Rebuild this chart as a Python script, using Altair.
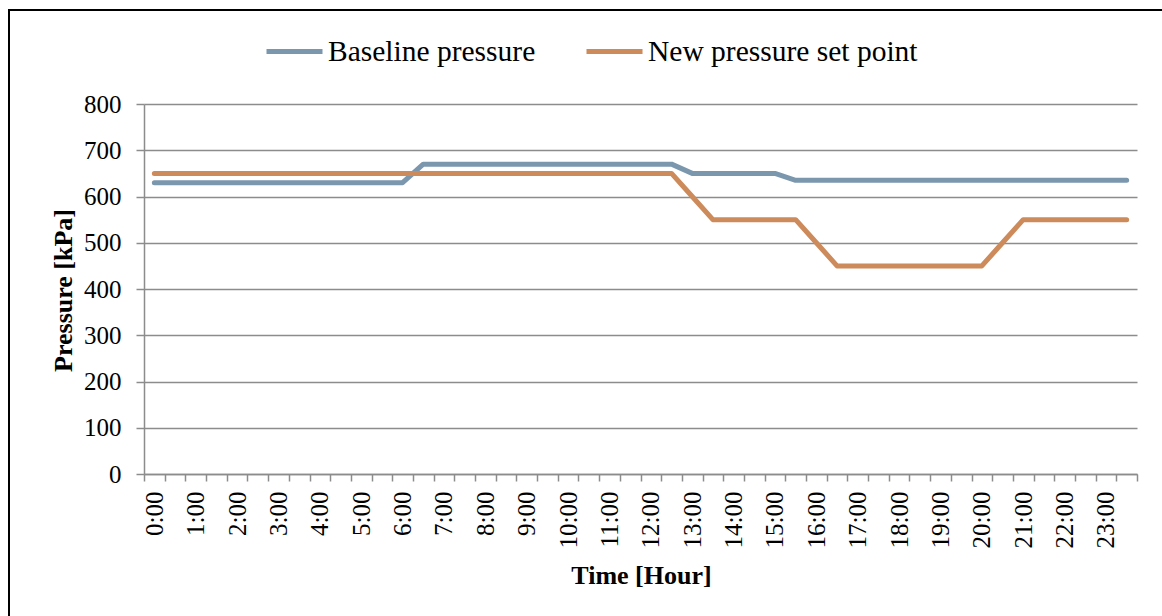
import altair as alt
import pandas as pd

# Half-hour time slots across the day
times = [
    "0:00", "0:30", "1:00", "1:30", "2:00", "2:30", "3:00", "3:30",
    "4:00", "4:30", "5:00", "5:30", "6:00", "6:30", "7:00", "7:30",
    "8:00", "8:30", "9:00", "9:30", "10:00", "10:30", "11:00", "11:30",
    "12:00", "12:30", "13:00", "13:30", "14:00", "14:30", "15:00", "15:30",
    "16:00", "16:30", "17:00", "17:30", "18:00", "18:30", "19:00", "19:30",
    "20:00", "20:30", "21:00", "21:30", "22:00", "22:30", "23:00", "23:30",
]

# Pressure in kPa
baseline_pressure = [
    630, 630, 630, 630, 630, 630, 630, 630, 630, 630, 630, 630, 630,
    670, 670, 670, 670, 670, 670, 670, 670, 670, 670, 670, 670, 670,
    650, 650, 650, 650, 650,
    635, 635, 635, 635, 635, 635, 635, 635, 635, 635, 635, 635, 635, 635, 635, 635, 635,
]
new_set_point = [
    650, 650, 650, 650, 650, 650, 650, 650, 650, 650, 650, 650, 650,
    650, 650, 650, 650, 650, 650, 650, 650, 650, 650, 650, 650, 650,
    600,
    550, 550, 550, 550, 550,
    500,
    450, 450, 450, 450, 450, 450, 450, 450,
    500,
    550, 550, 550, 550, 550, 550,
]

series_names = ["Baseline pressure", "New pressure set point"]
series_colors = ["#7b97ae", "#cd8a5a"]

rows = []
for name, values in zip(series_names, [baseline_pressure, new_set_point]):
    for t, v in zip(times, values):
        rows.append({"time": t, "pressure": v, "series": name})
df = pd.DataFrame(rows)

FONT = "Liberation Serif"
GRID = "#8c8c8c"

lines = alt.Chart(df).mark_line(strokeWidth=5, strokeCap="round", strokeJoin="round").encode(
    x=alt.X(
        "time:N",
        sort=times,
        scale=alt.Scale(paddingInner=0, paddingOuter=0),
        axis=alt.Axis(
            title="Time [Hour]",
            titleFont=FONT, titleFontSize=26, titleFontWeight="bold", titleColor="black",
            titleX=497, titleY=88, titleAlign="center", titleBaseline="top",
            labelFont=FONT, labelFontSize=25, labelColor="black",
            labelAngle=270, labelPadding=10, labelOverlap=False,
            labelExpr="indexof(datum.label, ':30') >= 0 ? '' : datum.label",
            tickBand="extent", tickSize=7, tickColor=GRID, tickWidth=1.5,
            domainColor=GRID, domainWidth=1.5, grid=False,
        ),
    ),
    y=alt.Y(
        "pressure:Q",
        scale=alt.Scale(domain=[0, 800], nice=False),
        axis=alt.Axis(
            title="Pressure [kPa]",
            titleFont=FONT, titleFontSize=26, titleFontWeight="bold", titleColor="black",
            titleAngle=270, titleX=-73, titleY=186, titleAlign="center", titleBaseline="alphabetic",
            values=[0, 100, 200, 300, 400, 500, 600, 700, 800],
            labelFont=FONT, labelFontSize=25, labelColor="black", labelPadding=15,
            tickSize=8, tickColor=GRID, tickWidth=1.5,
            domainColor=GRID, domainWidth=1.5,
            grid=True, gridColor=GRID, gridWidth=1.5,
        ),
    ),
    color=alt.Color(
        "series:N",
        scale=alt.Scale(domain=series_names, range=series_colors),
        legend=alt.Legend(
            title=None, orient="none", direction="horizontal",
            legendX=120, legendY=-83,
            symbolType="stroke", symbolSize=3136, symbolStrokeWidth=5,
            labelFont=FONT, labelFontSize=29.5, labelColor="black", labelLimit=0,
            labelOffset=3, columnPadding=40, padding=0,
        ),
    ),
)

# Outer frame of the figure
frame = alt.Chart(pd.DataFrame({"f": [0]})).mark_rect(
    fill="transparent", stroke="black", strokeWidth=2
).encode(
    x=alt.value(-135), x2=alt.value(1040),
    y=alt.value(-94), y2=alt.value(540),
)

chart = alt.layer(frame, lines).properties(
    width=993,
    height=370,
    autosize=alt.AutoSizeParams(type="none"),
    padding={"left": 144, "top": 104, "right": 25, "bottom": 142},
    background="white",
).configure_view(stroke=None)

chart.save("out.html", embed_options={"renderer": "svg", "actions": False})
